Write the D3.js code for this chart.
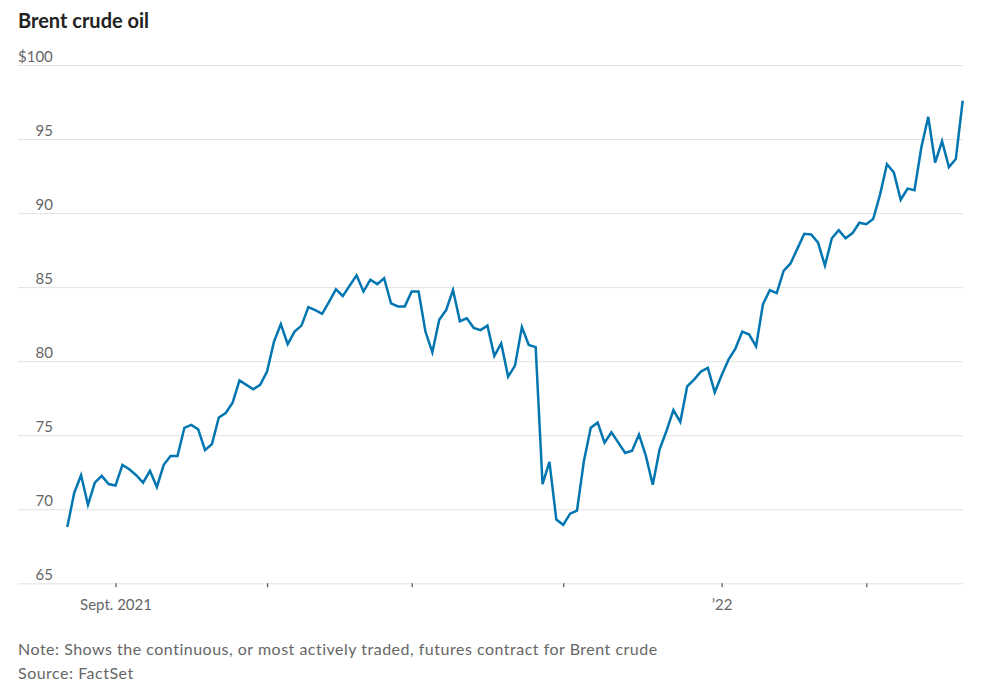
<!DOCTYPE html>
<html>
<head>
<meta charset="utf-8">
<script src="https://cdn.jsdelivr.net/npm/d3@7/dist/d3.min.js"></script>
<style>
  html, body { margin: 0; padding: 0; background: #fff; }
  svg { display: block; }
  .title { font-family: Lato, "Noto Sans", sans-serif; font-weight: bold; font-size: 20px; fill: #222; }
  .note { font-family: Lato, "Noto Sans", sans-serif; font-size: 16px; letter-spacing: 0.5px; fill: #666; }
  .axis text { font-family: Lato, "Noto Sans", sans-serif; font-size: 15px; fill: #666; }
</style>
</head>
<body>
<div id="chart"></div>
<script>
// Brent crude, daily settle, one value per trading day
var prices = [
  68.8, 71.1, 72.3, 70.3, 71.8, 72.25, 71.7, 71.6, 73.0, 72.7,
  72.3, 71.8, 72.6, 71.5, 73.0, 73.6, 73.6, 75.5, 75.7, 75.4,
  74.0, 74.4, 76.2, 76.5, 77.2, 78.7, 78.4, 78.1, 78.4, 79.3,
  81.3, 82.5, 81.15, 82.0, 82.4, 83.65, 83.45, 83.2, 84.0, 84.85,
  84.4, 85.1, 85.8, 84.7, 85.5,
  85.2, 85.6, 83.9, 83.7, 83.7, 84.7, 84.7, 82.0, 80.6, 82.8,
  83.45, 84.8, 82.7, 82.9, 82.25, 82.1, 82.4, 80.35, 81.2, 78.95,
  79.7, 82.3, 81.1, 80.95, 71.7, 73.2, 69.3, 68.95, 69.7, 69.9,
  73.25, 75.5, 75.85,
  74.5, 75.2, 74.5, 73.8, 73.95, 75.05, 73.6, 71.65, 74.05, 75.3,
  76.7, 75.9, 78.3, 78.75, 79.3, 79.55, 77.9, 79.05, 80.1, 80.85,
  82.0, 81.8, 81.0,
  83.85, 84.8, 84.6, 86.1, 86.6, 87.6, 88.6, 88.55, 88.0, 86.45,
  88.3, 88.85, 88.3, 88.65, 89.35, 89.25, 89.6, 91.25, 93.3, 92.75,
  90.9, 91.65, 91.55, 94.45, 96.5, 93.4, 94.85, 93.1, 93.65, 97.6
];

// first trading day of each month, as an index into prices
var monthStarts = [7, 29, 50, 72, 95, 116];
var monthLabels = ["Sept. 2021", "", "", "", "\u201922", ""];

var yTicks = [65, 70, 75, 80, 85, 90, 95, 100];

var width = 988,
  height = 692,
  gridLeft = 18,
  plotLeft = 67.3,
  plotRight = 962.7,
  plotTop = 65,
  plotBottom = 583.3;

var svg = d3.select("#chart").append("svg")
  .attr("width", width)
  .attr("height", height);

var x = d3.scaleLinear().domain([0, prices.length - 1]).range([plotLeft, plotRight]);
var y = d3.scaleLinear().domain([65, 100]).range([plotBottom, plotTop]);

svg.append("text")
  .attr("class", "title")
  .attr("x", 18)
  .attr("y", 28)
  .text("Brent crude oil");

// gridlines + value labels
var yAxis = svg.append("g")
  .attr("class", "axis")
  .attr("transform", "translate(" + gridLeft + ",0)")
  .call(d3.axisRight(y)
    .tickValues(yTicks)
    .tickSize(plotRight - gridLeft)
    .tickFormat(function(d) { return d === 100 ? "$100" : d; }));
yAxis.select(".domain").remove();
yAxis.selectAll("line").attr("stroke", "#e2e2e2").attr("stroke-width", 1);
yAxis.selectAll("text")
  .attr("x", 35)
  .attr("dy", -4)
  .attr("text-anchor", "end");
yAxis.selectAll(".tick")
  .filter(function(d) { return d === 100; })
  .select("text")
  .attr("x", 0)
  .attr("text-anchor", "start");

// month ticks
var xAxis = svg.append("g")
  .attr("class", "axis")
  .attr("transform", "translate(0," + plotBottom + ")")
  .call(d3.axisBottom(x)
    .tickValues(monthStarts)
    .tickSize(4)
    .tickFormat(function(d, i) { return monthLabels[i]; }));
xAxis.select(".domain").remove();
xAxis.selectAll("line").attr("stroke", "#555").attr("stroke-width", 1.2);
xAxis.selectAll("text").attr("y", 27).attr("dy", 0);

var line = d3.line()
  .x(function(d, i) { return x(i); })
  .y(function(d) { return y(d); });

svg.append("path")
  .datum(prices)
  .attr("fill", "none")
  .attr("stroke", "#0276b0")
  .attr("stroke-width", 2.5)
  .attr("stroke-linejoin", "miter")
  .attr("d", line);

svg.append("text")
  .attr("class", "note")
  .attr("x", 18)
  .attr("y", 655)
  .text("Note: Shows the continuous, or most actively traded, futures contract for Brent crude");

svg.append("text")
  .attr("class", "note")
  .attr("x", 18)
  .attr("y", 679)
  .text("Source: FactSet");
</script>
</body>
</html>
